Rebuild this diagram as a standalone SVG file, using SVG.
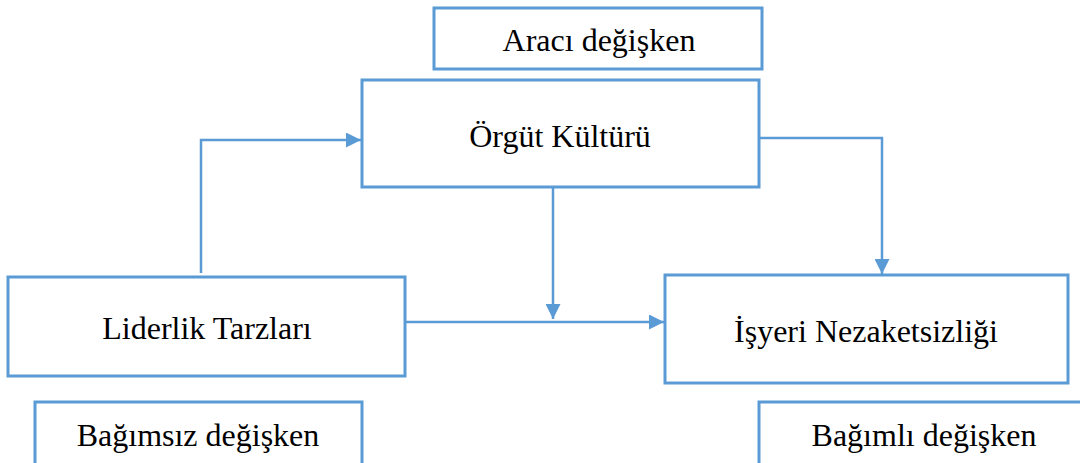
<svg xmlns="http://www.w3.org/2000/svg" width="1080" height="463" viewBox="0 0 1080 463">
<style>
.box{fill:#fff;stroke:#5B9BD5;stroke-width:3}
.lbl{font-family:"Liberation Serif","Times New Roman",serif;font-size:32px;fill:#000;text-anchor:middle}
.conn{fill:none;stroke:#5B9BD5;stroke-width:2.5}
</style>
<defs>
<marker id="ah" viewBox="0 0 10 10" refX="10" refY="5" markerWidth="6" markerHeight="6" markerUnits="strokeWidth" orient="auto">
<path d="M0,0 L10,5 L0,10 z" fill="#5B9BD5"/>
</marker>
</defs>
<rect width="1080" height="463" fill="#fff"/>
<g id="araci">
<rect class="box" x="434" y="8" width="328" height="61"/>
<text class="lbl" x="599" y="51">Aracı değişken</text>
</g>
<g id="orgut">
<rect class="box" x="362" y="80" width="397" height="107"/>
<text class="lbl" x="560" y="147">Örgüt Kültürü</text>
</g>
<g id="liderlik">
<rect class="box" x="8" y="277" width="397" height="99"/>
<text class="lbl" x="207" y="339">Liderlik Tarzları</text>
</g>
<g id="isyeri">
<rect class="box" x="665" y="275" width="403" height="108"/>
<text class="lbl" x="866" y="342">İşyeri Nezaketsizliği</text>
</g>
<g id="bagimsiz">
<rect class="box" x="35" y="402" width="327" height="70"/>
<text class="lbl" x="198" y="446">Bağımsız değişken</text>
</g>
<g id="bagimli">
<rect class="box" x="759" y="402" width="340" height="70"/>
<text class="lbl" x="924" y="446">Bağımlı değişken</text>
</g>
<g id="connectors">
<path class="conn" d="M201,273 V140 H361" marker-end="url(#ah)"/>
<path class="conn" d="M759,138 H882 V274" marker-end="url(#ah)"/>
<path class="conn" d="M553,187 V319" marker-end="url(#ah)"/>
<path class="conn" d="M405,322 H664" marker-end="url(#ah)"/>
</g>
</svg>
